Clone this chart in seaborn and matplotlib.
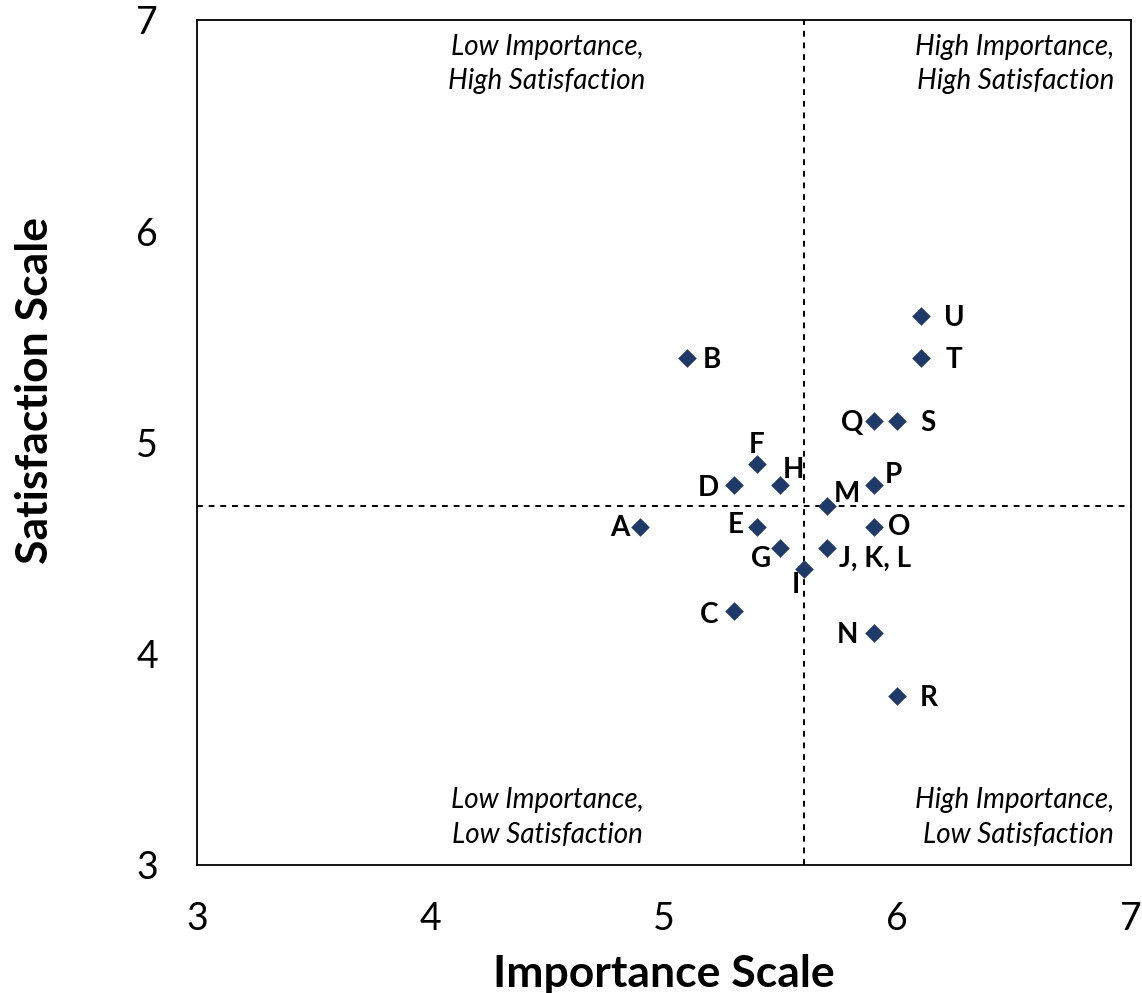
import matplotlib
matplotlib.use("Agg")
import matplotlib.pyplot as plt
import seaborn as sns
import pandas as pd

# data
labels = ['A', 'B', 'C', 'D', 'E', 'F', 'G', 'H', 'I', 'J, K, L',
          'M', 'N', 'O', 'P', 'Q', 'R', 'S', 'T', 'U']
importance = [4.9, 5.1, 5.3, 5.3, 5.4, 5.4, 5.5, 5.5, 5.6, 5.7,
              5.7, 5.9, 5.9, 5.9, 5.9, 6.0, 6.0, 6.1, 6.1]
satisfaction = [4.6, 5.4, 4.2, 4.8, 4.6, 4.9, 4.5, 4.8, 4.4, 4.5,
                4.7, 4.1, 4.6, 4.8, 5.1, 3.8, 5.1, 5.4, 5.6]
mean_importance = 5.6
mean_satisfaction = 4.7
ticks = [3, 4, 5, 6, 7]

# label offsets in pixels (dx, dy)
label_offsets = {
    'A': (-21, -1), 'B': (25, -2), 'C': (-25, -4), 'D': (-25, -3),
    'E': (-21, 2), 'F': (-1, 19), 'G': (-19, -11), 'H': (13, 15),
    'I': (-8, -16), 'J, K, L': (12, -11), 'M': (20, 12), 'N': (-26, -2),
    'O': (25, 0), 'P': (20, 10), 'Q': (-22, -2), 'R': (32, -2),
    'S': (31, -2), 'T': (33, -2), 'U': (34, -2),
}

df = pd.DataFrame({'Importance': importance, 'Satisfaction': satisfaction, 'Label': labels})

sns.set_style("white")
plt.rcParams['font.family'] = ['Lato', 'DejaVu Sans']
plt.rcParams['text.color'] = 'black'
plt.rcParams['axes.labelcolor'] = 'black'
plt.rcParams['xtick.color'] = 'black'
plt.rcParams['ytick.color'] = 'black'

fig = plt.figure(figsize=(11.42, 9.93), dpi=100)
ax = fig.add_axes([0.1725, 0.129, 0.8175, 0.851])

sns.scatterplot(data=df, x='Importance', y='Satisfaction', marker='D', s=90,
                color='#1F3A68', linewidth=0, ax=ax, zorder=3)

ax.axvline(mean_importance, color='black', linestyle=(0, (3, 3)), linewidth=1.4, zorder=1)
ax.axhline(mean_satisfaction, color='black', linestyle=(0, (3, 3)), linewidth=1.4, zorder=1)

for lab, x, y in zip(labels, importance, satisfaction):
    dx, dy = label_offsets[lab]
    ha = 'left' if lab == 'J, K, L' else 'center'
    ax.annotate(lab, (x, y), xytext=(dx, dy), textcoords='offset pixels',
                ha=ha, va='center', fontsize=20, fontweight='bold', color='black')

quad_style = dict(fontsize=20, fontstyle='italic', va='center', linespacing=1.4)
ax.text(4.5, 6.79, 'Low Importance,\nHigh Satisfaction', ha='center', **quad_style)
ax.text(6.93, 6.79, 'High Importance,\nHigh Satisfaction', ha='right', multialignment='right', **quad_style)
ax.text(4.5, 3.225, 'Low Importance,\nLow Satisfaction', ha='center', **quad_style)
ax.text(6.93, 3.225, 'High Importance,\nLow Satisfaction', ha='right', multialignment='right', **quad_style)

ax.set_xlim(3, 7)
ax.set_ylim(3, 7)
ax.set_xticks(ticks)
ax.set_yticks(ticks)
ax.tick_params(axis='both', length=0, labelsize=27)
ax.tick_params(axis='x', pad=26)
ax.tick_params(axis='y', pad=28)
for sp in ax.spines.values():
    sp.set_color('black')
    sp.set_linewidth(1.3)

ax.set_xlabel('Importance Scale', fontsize=32, fontweight='bold', labelpad=12)
ax.set_ylabel('Satisfaction Scale', fontsize=32, fontweight='bold', va='center')
ax.yaxis.set_label_coords(-0.173, 0.561)

plt.savefig('out.png', dpi=100)
